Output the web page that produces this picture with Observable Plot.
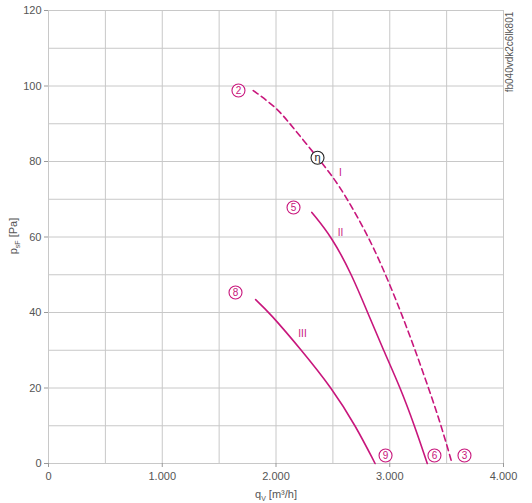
<!DOCTYPE html>
<html><head><meta charset="utf-8">
<script src="https://cdn.jsdelivr.net/npm/d3@7"></script>
<script src="https://cdn.jsdelivr.net/npm/@observablehq/plot@0.6"></script>
<style>
html,body{margin:0;padding:0;background:#fff;}
svg{font-family:"Liberation Sans",Arial,sans-serif;}
</style></head>
<body><div id="chart"></div>
<script>
// Curve I (dashed)
const curveIq = [1800, 2000, 2124, 2368, 2500, 2629, 2815, 2965, 3100, 3224, 3341, 3453, 3548];
const curveIp = [98.8, 94.4, 90, 80.9, 76, 70, 60, 50, 40, 30, 20, 10, 0];
// Curve II
const curveIIq = [2315, 2491, 2667, 2805, 2945, 3094, 3218, 3330];
const curveIIp = [66.5, 60, 50, 40, 30, 20, 10, 0];
// Curve III
const curveIIIq = [1821, 1941, 2225, 2490, 2700, 2871];
const curveIIIp = [43.4, 40, 30, 20, 10, 0];
// Operating point markers
const markerLabels = ["2", "5", "8", "9", "6", "3"];
const markerQ = [1670, 2154, 1644, 2963, 3393, 3657];
const markerP = [98.8, 67.8, 45.3, 2.1, 2.1, 2.1];
const etaQ = [2365], etaP = [81];
// Curve names
const curveNames = ["I", "II", "III"];
const curveNameQ = [2567, 2567, 2233];
const curveNameP = [77.1, 61, 34.4];
const xTicks = [0, 1000, 2000, 3000, 4000];
const yTicks = [0, 20, 40, 60, 80, 100, 120];

const mag = "#c8167c";
const toRows = (q, p) => q.map((v, i) => ({q: v, p: p[i]}));
const fmt = d => d === 0 ? "0" : d3.format(",")(d).replace(/,/g, ".");
const markers = markerLabels.map((t, i) => ({t, q: markerQ[i], p: markerP[i]}));
const names = curveNames.map((t, i) => ({t, q: curveNameQ[i], p: curveNameP[i]}));

const plot = Plot.plot({
  width: 532, height: 503,
  marginLeft: 48, marginRight: 29, marginTop: 10, marginBottom: 40,
  style: {fontFamily: "Liberation Sans, Arial, sans-serif", fontSize: "11px", color: "#444"},
  x: {domain: [0, 4000]},
  y: {domain: [0, 120]},
  marks: [
    Plot.gridX(d3.range(0, 4001, 500), {stroke: "#c8c8c8", strokeOpacity: 1}),
    Plot.gridY(d3.range(0, 121, 10), {stroke: "#c8c8c8", strokeOpacity: 1}),
    Plot.axisX({ticks: xTicks, tickFormat: fmt, tickSize: 4, tickPadding: 5, label: null, stroke: "#999", fill: "#555"}),
    Plot.axisY({ticks: yTicks, tickSize: 4, tickPadding: 3, label: null, stroke: "#999", fill: "#555"}),
    Plot.line(toRows(curveIq, curveIp), {x: "q", y: "p", stroke: mag, strokeWidth: 1.6, strokeDasharray: "6,4", curve: "basis"}),
    Plot.line(toRows(curveIIq, curveIIp), {x: "q", y: "p", stroke: mag, strokeWidth: 1.6, curve: "basis"}),
    Plot.line(toRows(curveIIIq, curveIIIp), {x: "q", y: "p", stroke: mag, strokeWidth: 1.6, curve: "basis"}),
    Plot.dot(markers, {x: "q", y: "p", r: 6.5, stroke: mag, fill: "white", strokeWidth: 1.1}),
    Plot.text(markers, {x: "q", y: "p", text: "t", fill: mag, fontSize: 10}),
    Plot.dot(toRows(etaQ, etaP), {x: "q", y: "p", r: 6.5, stroke: "#222", fill: "white", strokeWidth: 1.1}),
    Plot.text(toRows(etaQ, etaP), {x: "q", y: "p", text: () => "η", fill: "#222", fontSize: 11}),
    Plot.text(names, {x: "q", y: "p", text: "t", fill: mag, fontSize: 10})
  ]
});

const svg = d3.select(plot);
// y axis label
const yl = svg.append("text").attr("transform", "translate(17,236) rotate(-90)")
  .attr("text-anchor", "middle").attr("fill", "#555").attr("font-size", 11);
yl.append("tspan").text("p");
yl.append("tspan").attr("font-size", 7).attr("dy", 3).text("sF");
yl.append("tspan").attr("dy", -3).text(" [Pa]");
// x axis label
const xl = svg.append("text").attr("x", 276).attr("y", 498)
  .attr("text-anchor", "middle").attr("fill", "#555").attr("font-size", 11);
xl.append("tspan").text("q");
xl.append("tspan").attr("font-size", 7).attr("dy", 3).text("V");
xl.append("tspan").attr("dy", -3).text(" [m³/h]");
// code
svg.append("text").attr("transform", "translate(513,52) rotate(-90)")
  .attr("text-anchor", "middle").attr("fill", "#555").attr("font-size", 10).text("fb040vdk2c6lk801");

document.getElementById("chart").appendChild(plot);
</script></body></html>
